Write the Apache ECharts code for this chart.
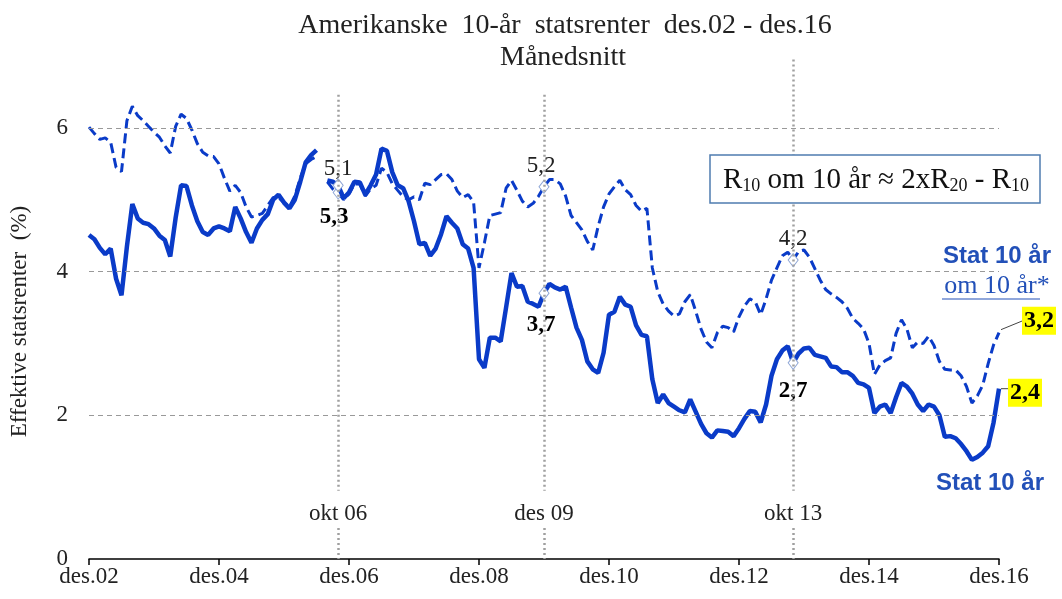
<!DOCTYPE html>
<html>
<head>
<meta charset="utf-8">
<script src="https://cdn.jsdelivr.net/npm/echarts@6/dist/echarts.min.js"></script>
<style>
html,body{margin:0;padding:0;background:#fff}
#chart{width:1062px;height:599px}
</style>
</head>
<body>
<div id="chart"></div>
<script>
// månedsnitt des.02 - des.16 (169 måneder), juli 06 mangler
var monthNames = ['jan','feb','mar','apr','mai','jun','jul','aug','sep','okt','nov','des'];
var categories = [];
for (var m = 0; m <= 168; m++) {
	var k = 11 + m;
	var yy = 2 + Math.floor(k / 12);
	categories.push(monthNames[k % 12] + '.' + (yy < 10 ? '0' + yy : '' + yy));
}

// Stat 10 år (heltrukken)
var stat10 = [
	4.51, 4.45, 4.33, 4.24, 4.32, 3.90, 3.67, 4.35, 4.94, 4.74,
	4.68, 4.66, 4.60, 4.50, 4.44, 4.21, 4.75, 5.20, 5.19, 4.92,
	4.70, 4.55, 4.51, 4.60, 4.63, 4.60, 4.56, 4.90, 4.74, 4.55,
	4.40, 4.60, 4.72, 4.80, 5.00, 5.07, 4.96, 4.88, 5.00, 5.25,
	5.52, 5.62, 5.69, null, 5.27, 5.25, 5.20, 5.02, 5.10, 5.25,
	5.24, 5.07, 5.20, 5.35, 5.71, 5.68, 5.38, 5.20, 5.16, 4.98,
	4.70, 4.38, 4.40, 4.22, 4.32, 4.52, 4.77, 4.68, 4.60, 4.38,
	4.32, 4.05, 2.78, 2.66, 3.08, 3.08, 3.03, 3.50, 3.98, 3.79,
	3.80, 3.58, 3.55, 3.51, 3.70, 3.83, 3.78, 3.75, 3.79, 3.50,
	3.22, 3.05, 2.75, 2.64, 2.59, 2.87, 3.40, 3.44, 3.65, 3.54,
	3.51, 3.25, 3.12, 3.10, 2.50, 2.17, 2.29, 2.17, 2.12, 2.07,
	2.04, 2.22, 2.05, 1.88, 1.75, 1.69, 1.79, 1.78, 1.77, 1.71,
	1.82, 1.95, 2.06, 2.05, 1.90, 2.15, 2.55, 2.78, 2.90, 2.96,
	2.73, 2.86, 2.93, 2.94, 2.84, 2.82, 2.80, 2.68, 2.67, 2.60,
	2.60, 2.55, 2.45, 2.43, 2.38, 2.03, 2.12, 2.15, 2.03, 2.25,
	2.45, 2.40, 2.30, 2.15, 2.06, 2.15, 2.12, 2.00, 1.70, 1.71,
	1.68, 1.60, 1.50, 1.38, 1.42, 1.48, 1.57, 1.90, 2.37
];
// Stat 10 år om 10 år* (stiplet)
var om10 = [
	6.01, 5.92, 5.84, 5.86, 5.80, 5.45, 5.39, 6.10, 6.30, 6.17,
	6.10, 6.02, 5.94, 5.87, 5.75, 5.65, 6.02, 6.19, 6.13, 5.97,
	5.78, 5.66, 5.61, 5.60, 5.50, 5.30, 5.12, 5.20, 5.10, 4.90,
	4.76, 4.78, 4.81, 4.92, 5.03, 5.03, 4.96, 4.90, 5.05, 5.30,
	5.50, 5.56, 5.60, null, 5.25, 5.15, 5.10, 5.00, 5.08, 5.22,
	5.22, 5.05, 5.15, 5.20, 5.44, 5.38, 5.22, 5.13, 5.04, 5.00,
	5.04, 5.00, 5.23, 5.21, 5.28, 5.35, 5.36, 5.28, 5.12, 5.03,
	5.07, 4.97, 4.05, 4.40, 4.78, 4.80, 4.82, 5.16, 5.27, 5.13,
	4.98, 4.90, 4.95, 5.05, 5.18, 5.28, 5.28, 5.22, 5.05, 4.78,
	4.68, 4.58, 4.42, 4.30, 4.63, 4.90, 5.08, 5.18, 5.27, 5.14,
	5.07, 4.92, 4.84, 4.88, 4.05, 3.72, 3.55, 3.45, 3.38, 3.41,
	3.58, 3.68, 3.45, 3.20, 3.02, 2.94, 3.15, 3.24, 3.22, 3.16,
	3.37, 3.52, 3.62, 3.58, 3.40, 3.62, 3.88, 4.05, 4.22, 4.27,
	4.16, 4.28, 4.30, 4.20, 4.04, 3.88, 3.75, 3.69, 3.64, 3.58,
	3.49, 3.35, 3.28, 3.20, 3.00, 2.57, 2.70, 2.76, 2.80, 3.14,
	3.33, 3.20, 2.94, 3.02, 3.00, 3.10, 2.97, 2.75, 2.64, 2.63,
	2.63, 2.55, 2.40, 2.17, 2.27, 2.42, 2.72, 2.98, 3.15
];

// merkede måneder (okt 06, des 09, okt 13)
var markIdx = [46, 84, 130];
var markNames = ['okt 06', 'des 09', 'okt 13'];
var om10Labels = ['5,1', '5,2', '4,2'];
var stat10Labels = ['5,3', '3,7', '2,7'];
var endTexts = ['2,4', '3,2'];
var yTicks = [0, 2, 4, 6];

var serif = '"Liberation Serif", "Times New Roman", serif';
var sans = '"Liberation Sans", Arial, sans-serif';
var lineBlue = '#0a3bc8';
var textBlue = '#2250b8';

function buildData(values, labels, position, offsets, bold) {
	return values.map(function(v, i) {
		var k = markIdx.indexOf(i);
		if (k < 0) return v;
		return {
			value: v,
			symbol: 'diamond',
			symbolSize: [10, 13],
			itemStyle: { color: '#fff', borderColor: '#8ea6d6', borderWidth: 1 },
			label: {
				show: true,
				formatter: labels[k],
				position: position,
				offset: offsets[k],
				fontFamily: serif,
				fontSize: 23,
				fontWeight: bold ? 'bold' : 'normal',
				color: bold ? '#000' : '#222'
			}
		};
	});
}

// vertikale prikkete linjer med etikett
var eventLines = [];
markIdx.forEach(function(idx, k) {
	var top = k == 2 ? 6.95 : 6.46;
	eventLines.push([{ coord: [idx, top] }, { coord: [idx, 0.95] }]);
	eventLines.push([
		{ coord: [idx, 0.43], label: { show: true, position: 'start', formatter: markNames[k], distance: 3 } },
		{ coord: [idx, 0] }
	]);
});

var chart = echarts.init(document.getElementById('chart'));
var option = {
	animation: false,
	grid: { left: 87, right: 63, top: 56, bottom: 40 },
	xAxis: {
		type: 'category',
		data: categories,
		boundaryGap: false,
		axisLine: { lineStyle: { color: '#000', width: 1.5 } },
		axisTick: {
			interval: function(i) { return i % 24 === 0; },
			length: 6,
			lineStyle: { color: '#000', width: 1.5 }
		},
		axisLabel: {
			interval: function(i) { return i % 24 === 0; },
			fontFamily: serif,
			fontSize: 23,
			color: '#222',
			margin: 6
		},
		splitLine: { show: false }
	},
	yAxis: {
		type: 'value',
		min: 0,
		max: 7,
		interval: 2,
		name: 'Effektive statsrenter  (%)',
		nameLocation: 'middle',
		nameGap: 58,
		nameTextStyle: { fontFamily: serif, fontSize: 23, color: '#222', padding: [0, 28, 0, 0] },
		axisLine: { show: false },
		axisTick: { show: false },
		splitLine: { show: false },
		axisLabel: {
			showMaxLabel: false,
			fontFamily: serif,
			fontSize: 23,
			color: '#222',
			margin: 21
		}
	},
	series: [{
		name: 'Stat 10 år om 10 år*',
		type: 'line',
		data: buildData(om10, om10Labels, 'top', [[0, 0], [-3, 3], [0, 2]], false),
		symbol: 'none',
		showSymbol: true,
		showAllSymbol: true,
		connectNulls: false,
		lineStyle: { color: lineBlue, width: 3, type: [10, 5] },
		itemStyle: { color: lineBlue },
		endLabel: {
			show: true,
			formatter: endTexts[1],
			fontFamily: serif,
			fontSize: 24,
			fontWeight: 'bold',
			color: '#000',
			backgroundColor: '#ffff00',
			padding: [3, 2, 1, 2],
			distance: 23,
			offset: [0, -12]
		},
		markLine: {
			silent: true,
			symbol: 'none',
			label: { show: false },
			lineStyle: { color: '#999', type: [5, 4], width: 1.2 },
			data: yTicks.slice(1).map(function(t) { return { yAxis: t }; })
		},
		z: 3
	}, {
		name: 'Stat 10 år',
		type: 'line',
		data: buildData(stat10, stat10Labels, 'bottom', [[-4, 8], [-3, 8], [0, 5]], true),
		symbol: 'none',
		showSymbol: true,
		showAllSymbol: true,
		connectNulls: false,
		lineStyle: { color: lineBlue, width: 4.5 },
		itemStyle: { color: lineBlue },
		endLabel: {
			show: true,
			formatter: endTexts[0],
			fontFamily: serif,
			fontSize: 24,
			fontWeight: 'bold',
			color: '#000',
			backgroundColor: '#ffff00',
			padding: [3, 2, 1, 2],
			distance: 9,
			offset: [0, 4]
		},
		markLine: {
			silent: true,
			symbol: 'none',
			lineStyle: { color: '#a0a0a0', type: [2, 3], width: 2.5 },
			label: { fontFamily: serif, fontSize: 23, color: '#222' },
			data: eventLines
		},
		z: 4
	}],
	graphic: [{
		type: 'text', x: 565, y: 26,
		style: { text: 'Amerikanske  10-år  statsrenter  des.02 - des.16', font: '28px ' + serif, fill: '#222', textAlign: 'center', textVerticalAlign: 'middle' }
	}, {
		type: 'text', x: 563, y: 58,
		style: { text: 'Månedsnitt', font: '28px ' + serif, fill: '#222', textAlign: 'center', textVerticalAlign: 'middle' }
	}, {
		type: 'rect', shape: { x: 710, y: 155, width: 330, height: 48 },
		style: { fill: '#fff', stroke: '#4f7cb0', lineWidth: 1.5 }, z: 10
	}, {
		type: 'text', x: 876, y: 180, z: 11,
		style: {
			text: 'R{s|10} om 10 år ≈ 2xR{s|20} - R{s|10}',
			font: '29px ' + serif, fill: '#111', textAlign: 'center', textVerticalAlign: 'middle',
			rich: { s: { fontSize: 18, fontFamily: serif, padding: [12, 0, 0, 0] } }
		}
	}, {
		type: 'text', x: 997, y: 256,
		style: { text: 'Stat 10 år', font: 'bold 24px ' + sans, fill: textBlue, textAlign: 'center', textVerticalAlign: 'middle' }
	}, {
		type: 'text', x: 997, y: 286,
		style: { text: 'om 10 år*', font: '26px ' + serif, fill: textBlue, textAlign: 'center', textVerticalAlign: 'middle' }
	}, {
		type: 'line', shape: { x1: 942, y1: 299, x2: 1040, y2: 299 },
		style: { stroke: textBlue, lineWidth: 1.2 }
	}, {
		type: 'text', x: 990, y: 483,
		style: { text: 'Stat 10 år', font: 'bold 24px ' + sans, fill: textBlue, textAlign: 'center', textVerticalAlign: 'middle' }
	}]
};
chart.setOption(option);

// små ledelinjer til sluttverdiene
var pDash = chart.convertToPixel({ seriesIndex: 0 }, [168, om10[168]]);
var pSolid = chart.convertToPixel({ seriesIndex: 1 }, [168, stat10[168]]);
chart.setOption({
	graphic: option.graphic.concat([{
		type: 'line', shape: { x1: pDash[0] + 2, y1: pDash[1] - 3, x2: pDash[0] + 24, y2: pDash[1] - 12 },
		style: { stroke: '#444', lineWidth: 1 }
	}, {
		type: 'line', shape: { x1: pSolid[0] + 2, y1: pSolid[1], x2: pSolid[0] + 10, y2: pSolid[1] },
		style: { stroke: '#444', lineWidth: 1 }
	}])
});
window.onresize = chart.resize;
</script>
</body>
</html>
